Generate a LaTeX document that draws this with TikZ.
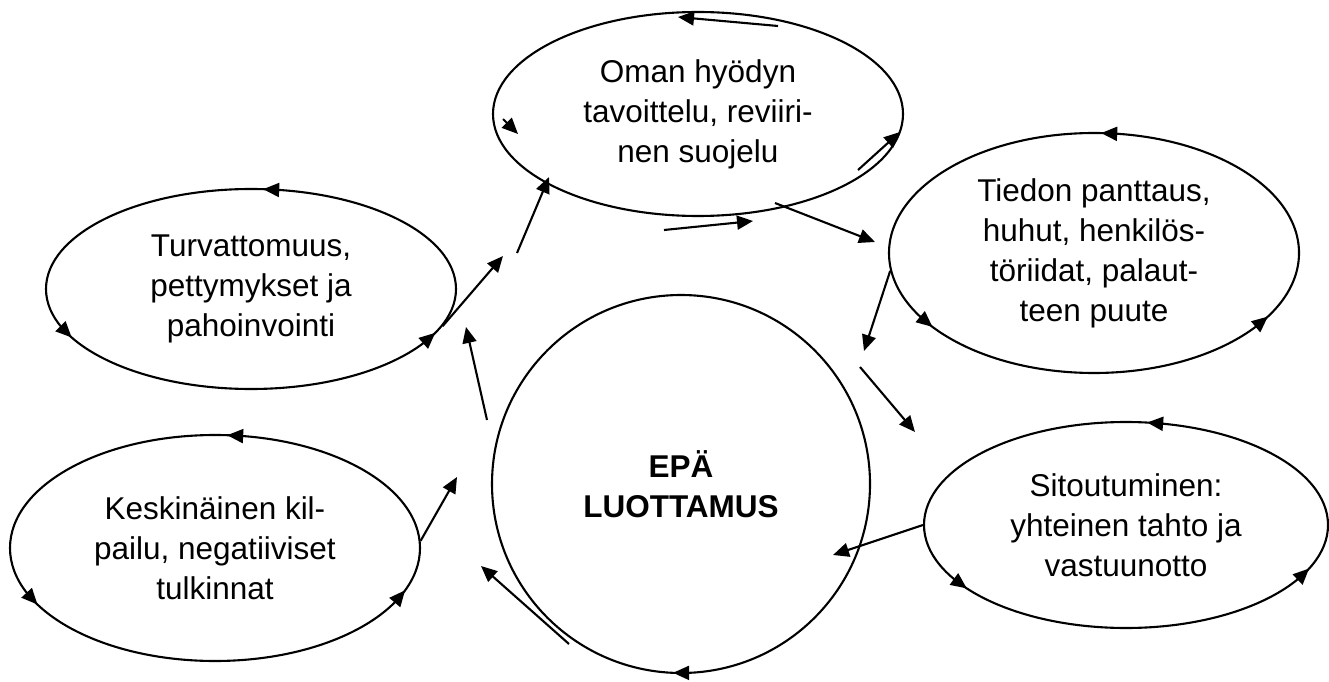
\documentclass[tikz,border=0pt]{standalone}
\usepackage{fontspec}
\setmainfont{Liberation Sans}
\usetikzlibrary{shapes.geometric,arrows.meta,calc}
\newcommand\rimtip[5]{\draw[con] ([shift={(#4:#2pt and #3pt)}]#1.center) -- ([shift={(#5:#2pt and #3pt)}]#1.center);}
\begin{document}
\begin{tikzpicture}[x=1pt,y=1pt,
  every node/.style={font=\fontsize{31.5}{40}\selectfont, align=center, inner sep=0pt},
  bub/.style={ellipse, draw, line width=2.1pt},
  con/.style={line width=2.1pt, -{Triangle[length=16pt,width=14pt]}}]
\useasboundingbox (0,0) rectangle (1329,681);
% bubbles
\node[bub, minimum width=410pt, minimum height=204pt] (O) at (698,567) {Oman hyödyn\\tavoittelu, reviiri-\\nen suojelu};
\node[bub, minimum width=410pt, minimum height=240pt] (D) at (1094,428) {Tiedon panttaus,\\huhut, henkilös-\\töriidat, palaut-\\teen puute};
\node[bub, minimum width=404pt, minimum height=206pt] (S) at (1126,156) {Sitoutuminen:\\yhteinen tahto ja\\vastuunotto};
\node[bub, minimum width=410pt, minimum height=200pt] (T) at (251,392) {Turvattomuus,\\pettymykset ja\\pahoinvointi};
\node[bub, minimum width=410pt, minimum height=226pt] (K) at (215,133) {Keskinäinen kil-\\pailu, negatiiviset\\tulkinnat};
\node[bub, circle, minimum size=378pt, font=\fontsize{31.5}{40}\selectfont\bfseries] (E) at (681,197) {EPÄ\\LUOTTAMUS};
% arrowheads on the rims
\rimtip{T}{205}{100}{82}{86.6}
\rimtip{T}{205}{100}{203}{209}
\rimtip{T}{205}{100}{328}{334}
\rimtip{D}{205}{120}{83}{88}
\rimtip{D}{205}{120}{212}{218}
\rimtip{D}{205}{120}{322}{328}
\rimtip{S}{202}{103}{79}{84}
\rimtip{S}{202}{103}{212}{218}
\rimtip{S}{202}{103}{329}{335}
\rimtip{K}{205}{113}{82}{86.6}
\rimtip{K}{205}{113}{204}{210}
\rimtip{K}{205}{113}{332}{338}
\rimtip{E}{189}{189}{272}{267.6}
% free ends
\coordinate (o1a) at (778,655); \coordinate (o1b) at (678,664);
\coordinate (o2a) at (503,562); \coordinate (o2b) at (518,547);
\coordinate (o3a) at (664,451); \coordinate (o3b) at (753,460);
\coordinate (o4a) at (858,511); \coordinate (o4b) at (900,549);
\coordinate (c1a) at (775,478); \coordinate (c1b) at (875,439);
\coordinate (c2b) at (864,330);
\coordinate (c3a) at (860,314); \coordinate (c3b) at (915,249);
\coordinate (c4b) at (833,126);
\coordinate (c5a) at (569,37);  \coordinate (c5b) at (481,115);
\coordinate (c6a) at (487,261); \coordinate (c6b) at (466,354);
\coordinate (c7b) at (457,204);
\coordinate (c8b) at (503,425);
\coordinate (c9a) at (517,428); \coordinate (c9b) at (549,504);
% arrows round the top bubble
\draw[con] (o1a) -- (o1b);
\draw[con] (o2a) -- (o2b);
\draw[con] (o3a) -- (o3b);
\draw[con] (o4a) -- (o4b);
% connectors
\draw[con] (c1a) -- (c1b);
\draw[con] (D.185) -- (c2b);
\draw[con] (c3a) -- (c3b);
\draw[con] (S.west) -- (c4b);
\draw[con] (c5a) -- (c5b);
\draw[con] (c6a) -- (c6b);
\draw[con] (K.2) -- (c7b);
\draw[con] (T.-11) -- (c8b);
\draw[con] (c9a) -- (c9b);
\end{tikzpicture}
\end{document}
